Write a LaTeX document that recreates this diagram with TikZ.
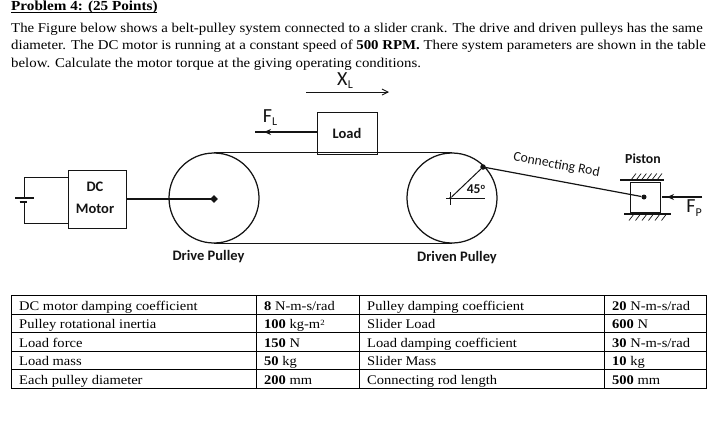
\documentclass[tikz,border=0pt]{standalone}
\usepackage{fontspec}
\setmainfont{Liberation Serif}[FakeStretch=1.1]
\newfontfamily\lab{Carlito}
\usetikzlibrary{arrows.meta,shapes.geometric,calc}
\definecolor{ink}{HTML}{141414}
\tikzset{
  body/.style={anchor=base west,inner sep=0pt,font=\fontsize{13.5}{15}\selectfont,text=black},
  cell/.style={anchor=base west,inner sep=0pt,font=\fontsize{13.2}{15}\selectfont,text=black},
  tag/.style={inner sep=0pt,font=\lab\bfseries\fontsize{14.5}{16}\selectfont,text=ink},
  hand/.style={inner sep=0pt,font=\lab\fontsize{20}{22}\selectfont,text=ink},
  wire/.style={draw=ink,line width=1pt},
  boxn/.style={draw=ink,line width=0.8pt,inner sep=0pt},
  pulley/.style={circle,draw=ink,line width=1.25pt,inner sep=0pt,minimum size=90pt},
  pin/.style={circle,fill=ink,inner sep=0pt,minimum size=5pt},
  grid line/.style={draw=black,line width=1pt},
  force/.style={draw=ink,line width=1.1pt,-{Stealth[length=7pt,width=6pt]}},
  hatchline/.style={draw=ink,line width=0.7pt}
}
\begin{document}
\begin{tikzpicture}[x=1pt,y=-1pt]
\useasboundingbox (0,0) rectangle (726,424);
% heading
\node[body,font=\bfseries\fontsize{13.8}{15}\selectfont] (head) at (11,10.5) {Problem 4: (25 Points)};
\draw[black,line width=0.8pt] (11,12.5) -- (157,12.5);
\node[body] (l1) at (11,32) {The Figure below shows a belt-pulley system connected to a slider crank. The drive and driven pulleys has the same};
\node[body] (l2) at (11,49.5) {diameter. The DC motor is running at a constant speed of \textbf{500 RPM.} There system parameters are shown in the table};
\node[body] (l3) at (11,67) {below. Calculate the motor torque at the giving operating conditions.};
% X_L
\coordinate (xa) at (306,92);
\coordinate (xb) at (389,92);
\draw[draw=ink,line width=0.9pt,-{Straight Barb[length=6pt,width=6pt]}] (xa) -- (xb);
\node[hand] (xl) at (345,81) {X\hspace{0.5pt}\raisebox{-3pt}{\fontsize{12}{12}\selectfont L}};
% load
\node[boxn,minimum width=60pt,minimum height=42pt,tag] (load) at (347,133) {Load};
\coordinate (fl) at (255,132);
\coordinate (fltip) at (264,132);
\draw[ink,line width=1.1pt] (load.west |- fl) -- (fl);
\draw[force] (load.west |- fl) -- (fltip);
\node[hand] (fltxt) at (270,118) {F\raisebox{-3pt}{\fontsize{12}{12}\selectfont L}};
% pulleys
\node[pulley] (drive) at (214,198) {};
\node[pulley] (driven) at (452,198) {};
\draw[wire,line width=1.25pt] (drive.north) -- (driven.north);
\draw[wire,line width=1.25pt] (drive.south) -- (driven.south);
% motor
\node[boxn,minimum width=58pt,minimum height=58pt] (motor) at (97,199) {};
\node[tag] (dc) at (95,187) {DC};
\node[tag] (mot) at (95,208.5) {Motor};
% battery
\coordinate (ba) at (24,198);
\coordinate (bb) at (24,203);
\draw[wire] (motor.west |- 0,177) -| (ba);
\draw[wire] (motor.west |- 0,223) -| (bb);
\draw[ink,line width=1.1pt] (15,198) -- (34,198);
\draw[ink,line width=1.7pt] (19.5,202) -- (26.5,202);
% shaft
\coordinate (hub) at (214,199);
\draw[ink,line width=2.6pt] (motor.east |- hub) -- (hub);
\node[diamond,fill=ink,inner sep=0pt,minimum size=8pt,shape aspect=1] (hubd) at (hub) {};
% driven pulley marks
\node[pin,minimum size=3pt] (c2) at (450.5,198) {};
\draw[wire] (c2.center) ++(0,-6) -- ++(0,13);
\draw[wire] (446,198) -- (485,198);
\node[pin,minimum size=5.5pt] (crank) at (483,167) {};
\draw[wire] (c2) -- (crank);
\node[tag,font=\lab\bfseries\fontsize{13.5}{14}\selectfont] (ang) at (476,189) {45\raisebox{4pt}{\fontsize{8.5}{8}\selectfont o}};
% piston
\node[boxn,minimum width=30pt,minimum height=30pt] (piston) at (645,197) {};
\node[pin] (pp) at (644,197) {};
\draw[ink,line width=1.2pt] (crank) -- (pp);
\draw[ink,line width=1.1pt] (620,180) -- (664,180);
\draw[ink,line width=1.1pt] (624,214) -- (671,214);
\foreach \i in {0,...,5} {
  \draw[hatchline] (631+\i*5.2,180) -- ++(5,-6.5);
  \draw[hatchline] (629+\i*6.5,220.5) -- ++(5,-6.5);
}
\coordinate (fp) at (702,197);
\coordinate (fptip) at (667,197);
\draw[ink,line width=1.1pt] (fp) -- (661.5,197);
\draw[force] (fp) -- (fptip);
\node[hand] (fptxt) at (694,208) {F\raisebox{-4.5pt}{\fontsize{12}{12}\selectfont P}};
% labels
\node[tag,font=\lab\bfseries\fontsize{13.8}{16}\selectfont] (pl) at (643,159) {Piston};
\node[tag] (dp) at (208.5,257) {Drive Pulley};
\node[tag] (dn) at (457,258) {Driven Pulley};
\node[inner sep=0pt,rotate=-10.5,font=\lab\fontsize{13.7}{15}\selectfont,text=ink] (cr) at (556.5,165) {Connecting Rod};
% table
\draw[grid line] (11,295.5) rectangle (706.5,388.5);
\foreach \yy in {314,332.7,351,369.5} \draw[grid line] (11,\yy) -- (706.5,\yy);
\foreach \xx in {256,359,604} \draw[grid line] (\xx,295.5) -- (\xx,388.5);
\node[cell] (a1) at (19,310) {DC motor damping coefficient};
\node[cell] (a2) at (19,328.5) {Pulley rotational inertia};
\node[cell] (a3) at (19,347) {Load force};
\node[cell] (a4) at (19,365.5) {Load mass};
\node[cell] (a5) at (19,384.5) {Each pulley diameter};
\node[cell] (b1) at (264,310) {\textbf{8} N-m-s/rad};
\node[cell] (b2) at (264,328.5) {\textbf{100} kg-m\raisebox{3pt}{\fontsize{8}{8}\selectfont 2}};
\node[cell] (b3) at (264,347) {\textbf{150} N};
\node[cell] (b4) at (264,365.5) {\textbf{50} kg};
\node[cell] (b5) at (264,384.5) {\textbf{200} mm};
\node[cell] (c1) at (367,310) {Pulley damping coefficient};
\node[cell] (c2t) at (367,328.5) {Slider Load};
\node[cell] (c3) at (367,347) {Load damping coefficient};
\node[cell] (c4) at (367,365.5) {Slider Mass};
\node[cell] (c5) at (367,384.5) {Connecting rod length};
\node[cell] (d1) at (612,310) {\textbf{20} N-m-s/rad};
\node[cell] (d2) at (612,328.5) {\textbf{600} N};
\node[cell] (d3) at (612,347) {\textbf{30} N-m-s/rad};
\node[cell] (d4) at (612,365.5) {\textbf{10} kg};
\node[cell] (d5) at (612,384.5) {\textbf{500} mm};
\end{tikzpicture}
\end{document}
